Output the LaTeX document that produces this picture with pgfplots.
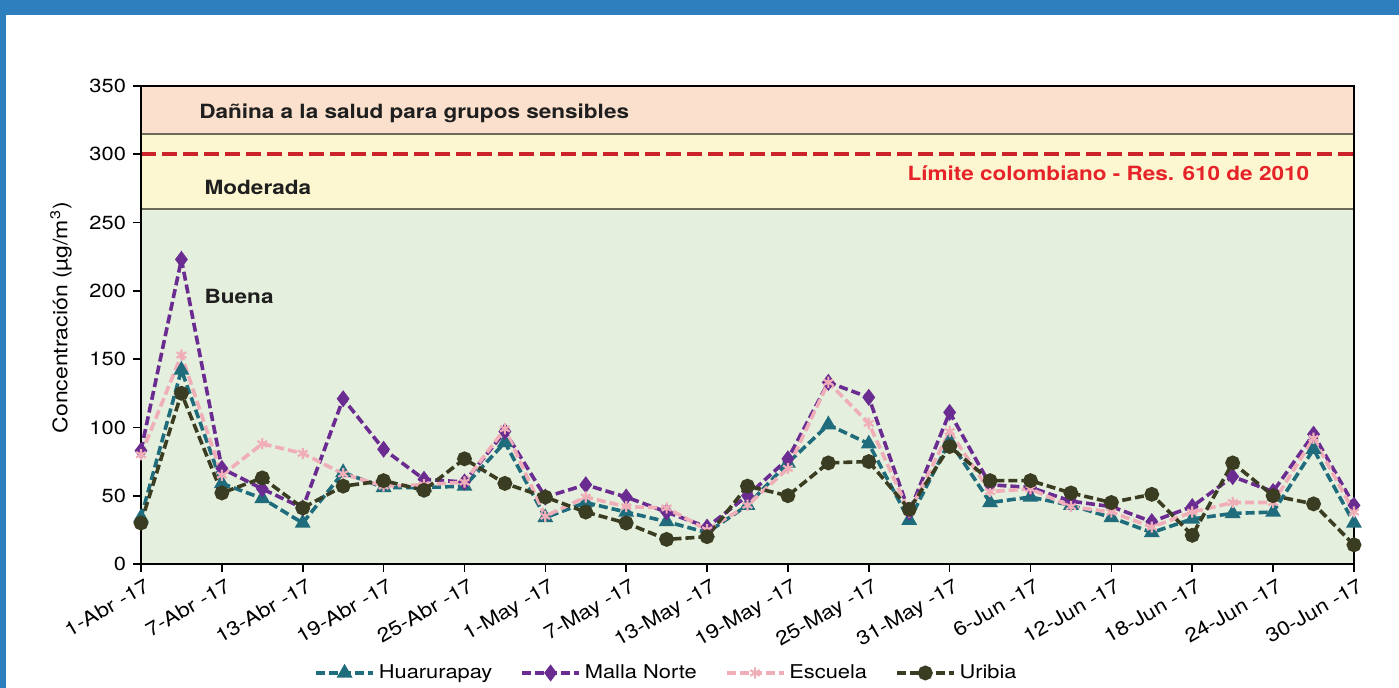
\documentclass[border=0pt]{standalone}
\usepackage{pgfplots}
\pgfplotsset{compat=1.18}
\usepackage{pgfplotstable}
\usepackage{fontspec}
\setmainfont[FakeStretch=1.15]{TeX Gyre Heros}
\definecolor{frameblue}{HTML}{2D7FBD}
\definecolor{cteal}{HTML}{1F6C7C}
\definecolor{cpurple}{HTML}{6B2C91}
\definecolor{cpink}{HTML}{F0AEB8}
\definecolor{colive}{HTML}{3B3D22}
\definecolor{bgreen}{HTML}{E5EFDD}
\definecolor{byellow}{HTML}{FCF7D0}
\definecolor{bpeach}{HTML}{FBE1CD}
\definecolor{bline}{HTML}{6E6A5A}
\definecolor{cred}{HTML}{CC2229}
\definecolor{tred}{HTML}{E52329}

\pgfplotstableread{
d h m e u
0 34 83 80 30
3 142 223 153 125
6 59 70 65 52
9 48 55 88 63
12 30 41 81 41
15 67 121 66 57
18 56 84 57 61
21 56 62 58 54
24 57 60 60 77
27 89 97 99 59
30 34 49 35 49
33 45 58 49 38
36 38 49 42 30
39 31 38 41 18
42 23 27 25 20
45 43 50 43 57
48 74 77 70 50
51 102 133 133 74
54 88 122 103 75
57 32 38 38 40
60 90 111 97 86
63 45 58 53 61
66 49 56 55 61
69 43 46 42 52
72 34 42 38 45
75 23 31 27 51
78 33 42 38 21
81 37 64 45 74
84 38 53 45 50
87 84 95 92 44
90 30 43 38 14
}\data

\begin{document}
\begin{tikzpicture}
\useasboundingbox (0pt,0pt) rectangle (699.5pt,344pt);
\fill[white] (0pt,0pt) rectangle (699.5pt,344pt);
\fill[frameblue] (0pt,336.5pt) rectangle (699.5pt,344pt);
\fill[frameblue] (0pt,0pt) rectangle (3pt,344pt);
\begin{axis}[
  at={(70.5pt,62pt)}, anchor=south west,
  scale only axis, width=606.5pt, height=239pt,
  xmin=0, xmax=90, ymin=0, ymax=350,
  axis on top,
  axis line style={line width=1pt, black},
  xtick={0,6,...,90},
  xticklabels={1-Abr -17,7-Abr -17,13-Abr -17,19-Abr -17,25-Abr -17,1-May -17,7-May -17,13-May -17,19-May -17,25-May -17,31-May -17,6-Jun -17,12-Jun -17,18-Jun -17,24-Jun -17,30-Jun -17},
  xticklabel style={rotate=30, anchor=north east, font=\fontsize{9.8}{11}\selectfont, inner sep=1pt, yshift=-2pt, xshift=1pt},
  ytick={0,50,...,350},
  yticklabel style={font=\fontsize{9.5}{11}\selectfont},
  /pgf/number format/assume math mode=true,
  tick align=outside, tickpos=left,
  major tick length=4pt,
  tick style={line width=0.8pt, black},
  ylabel={Concentración (µg/m\textsuperscript{3})},
  ylabel style={at={(axis description cs:-0.066,0.515)}, anchor=center, font=\fontsize{10}{12}\selectfont},
  legend columns=4,
  legend style={draw=none, fill=none, at={(0.434,-0.228)}, anchor=center, font=\fontsize{9.5}{11}\selectfont, /tikz/every even column/.append style={column sep=12pt}},
  legend image code/.code={\draw[mark repeat=2,mark phase=2] plot coordinates {(0cm,0cm) (0.5cm,0cm) (1cm,0cm)};},
  every axis plot/.append style={line width=1.8pt, dash pattern=on 4.5pt off 2pt, mark size=2.8pt},
]
\fill[bgreen] (axis cs:0,0) rectangle (axis cs:90,260);
\fill[byellow] (axis cs:0,260) rectangle (axis cs:90,315);
\fill[bpeach] (axis cs:0,315) rectangle (axis cs:90,350);
\draw[bline, line width=0.9pt] (axis cs:0,260) -- (axis cs:90,260);
\draw[bline, line width=0.9pt] (axis cs:0,315) -- (axis cs:90,315);
\draw[cred, line width=2pt, dash pattern=on 7.5pt off 3pt] (axis cs:0,300) -- (axis cs:90,300);
\node[anchor=west, font=\fontsize{9.8}{12}\selectfont\bfseries, text=black!88] at (axis cs:3.8,330) {Dañina a la salud para grupos sensibles};
\node[anchor=west, font=\fontsize{9.8}{12}\selectfont\bfseries, text=black!88] at (axis cs:4.2,276) {Moderada};
\node[anchor=west, font=\fontsize{9.8}{12}\selectfont\bfseries, text=black!88] at (axis cs:4.2,196) {Buena};
\node[anchor=east, font=\fontsize{9.8}{12}\selectfont\bfseries, text=tred] at (axis cs:87.2,286) {Límite colombiano - Res. 610 de 2010};
\addplot[color=cteal, mark=triangle*, mark options={solid}] table[x=d, y=h] {\data};
\addlegendentry{Huarurapay}
\addplot[color=cpurple, mark=diamond*, mark options={solid}] table[x=d, y=m] {\data};
\addlegendentry{Malla Norte}
\addplot[color=cpink, mark=asterisk, mark options={solid, line width=1.1pt}] table[x=d, y=e] {\data};
\addlegendentry{Escuela}
\addplot[color=colive, mark=*, mark options={solid}] table[x=d, y=u] {\data};
\addlegendentry{Uribia}
\end{axis}
\end{tikzpicture}
\end{document}
